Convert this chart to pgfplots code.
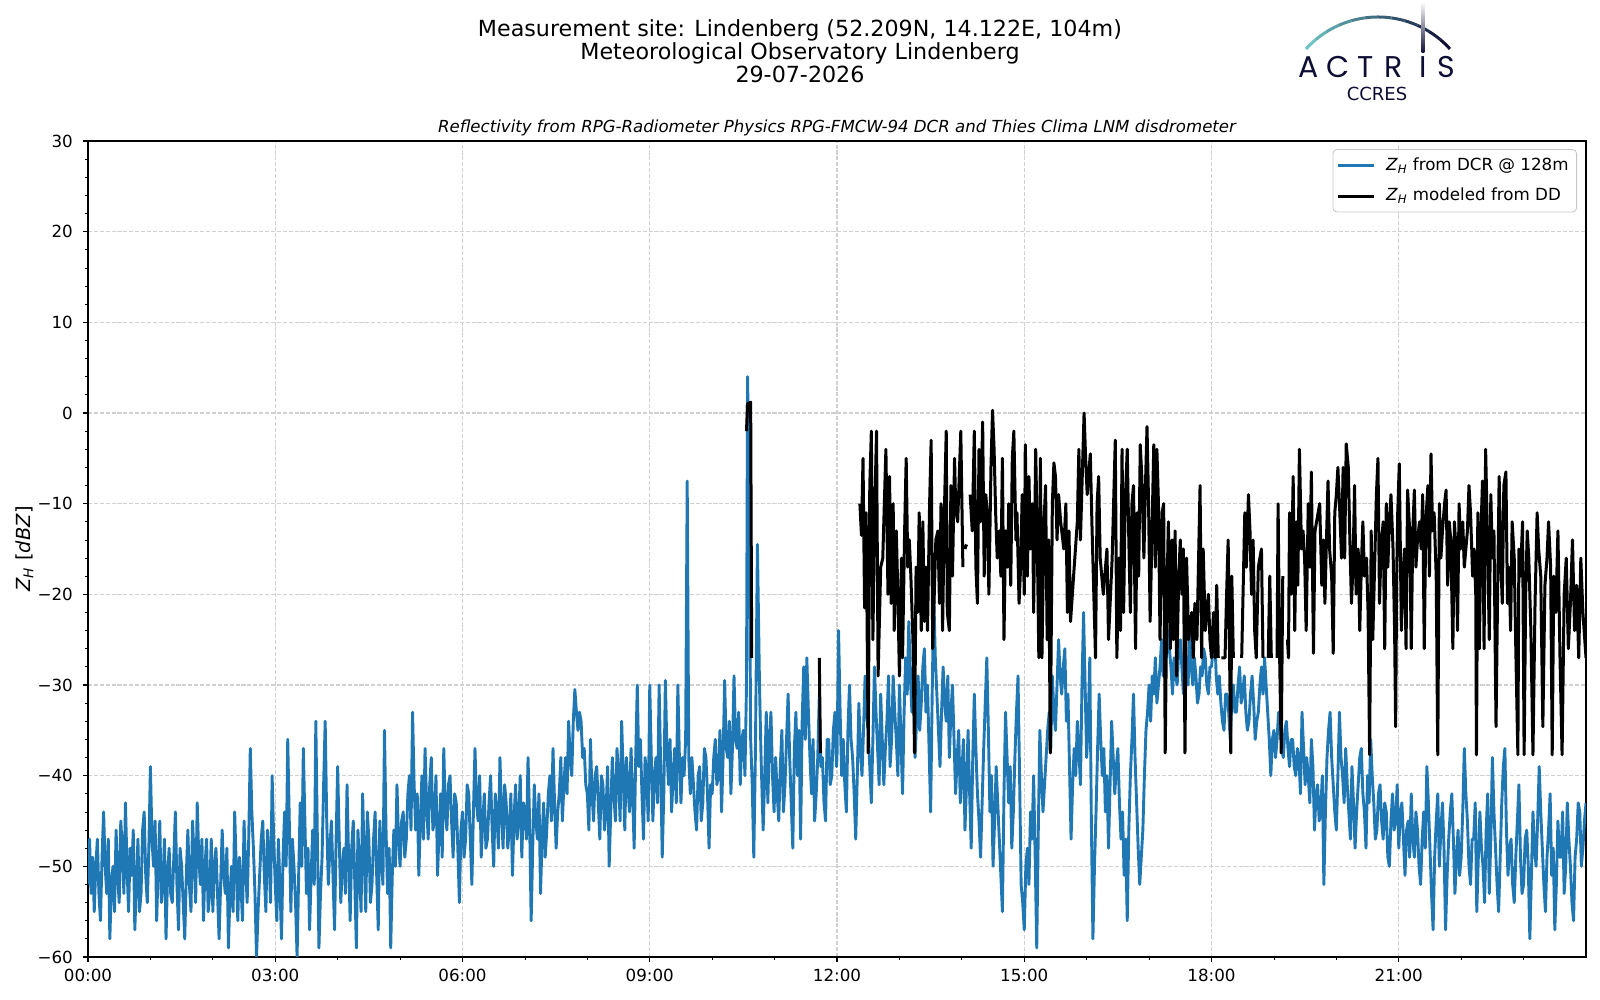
\documentclass[border=0pt]{standalone}
\usepackage{fontspec}
\setmainfont{DejaVu Sans}
\newfontfamily\logofont{Poppins}
\usepackage{pgfplots}
\pgfplotsset{compat=1.18}
\definecolor{mplblue}{HTML}{1F77B4}
\definecolor{navy}{HTML}{0E0E35}
\definecolor{tealc}{HTML}{6CC3C3}
\definecolor{gridc}{HTML}{D0D0D0}
\begin{document}
\begin{tikzpicture}
\useasboundingbox (-41pt,-21.5pt) rectangle (759pt,478.5pt);
\begin{axis}[
  at={(3pt,0pt)}, anchor=south west,
  scale only axis, width=749pt, height=408pt,
  xmin=0, xmax=1440, ymin=-60, ymax=30,
  xtick={0,180,360,540,720,900,1080,1260},
  xticklabels={00:00,03:00,06:00,09:00,12:00,15:00,18:00,21:00},
  minor xtick={60,120,240,300,420,480,600,660,780,840,960,1020,1140,1200,1320,1380},
  ytick={-60,-50,-40,-30,-20,-10,0,10,20,30},
  yticklabels={−60,−50,−40,−30,−20,−10,0,10,20,30},
  minor ytick={-58,-56,...,28},
  tick align=outside, tick pos=left,
  major tick length=2.43pt, minor tick length=1.39pt,
  every major tick/.append style={black, line width=0.55pt},
  every minor tick/.append style={black, line width=0.42pt},
  axis line style={black, line width=0.55pt},
  grid=major,
  major grid style={gridc, line width=0.55pt, dash pattern=on 2.05pt off 0.9pt},
  tick label style={font=\fontsize{8.35}{10}\selectfont},
  yticklabel style={xshift=-1.6pt},
  unbounded coords=jump,
  legend style={at={(0.994,0.990)}, anchor=north east, draw=gray!45, rounded corners=2pt,
    fill=white, fill opacity=0.8, text opacity=1, font=\fontsize{8.35}{10}\selectfont,
    inner xsep=2pt, inner ysep=2pt, row sep=3.5pt},
  legend cell align=left,
  legend image code/.code={\draw[#1] (0cm,0cm) -- (0.62cm,0cm); \path (0.74cm,0cm);},
]
\addplot[mplblue, line width=1.45pt, line join=round] coordinates {
(0,-52)(1.5,-47)(3,-53)(4.5,-49)(6,-55)(7.5,-50)(9,-47)(10.5,-53)(12,-56)(13.5,-49)(15,-44)(16.5,-50)(18,-53)(19.5,-47)(21,-58)(22.5,-52)(24,-50)(25.5,-55)(27,-46)(28.5,-51)(30,-54)(31.5,-45)(33,-48)(34.5,-53)(36,-43)(37.5,-50)(39,-55)(40.5,-48)(42,-51)(43.5,-46)(45,-57)(46.5,-52)(48,-47)(49.5,-55)(51,-53)(52.5,-46)(54,-44)(55.5,-51)(57,-54)(58.5,-48)
(60,-39)(61.5,-47)(63,-50)(64.5,-45)(66,-56)(67.5,-50)(69,-45)(70.5,-54)(72,-52)(73.5,-47)(75,-58)(76.5,-51)(78,-48)(79.5,-53)(81,-54)(82.5,-49)(84,-44)(85.5,-52)(87,-57)(88.5,-48)(90,-50)(91.5,-54)(93,-58)(94.5,-51)(96,-46)(97.5,-52)(99,-55)(100.5,-45)(102,-49)(103.5,-54)(105,-43)(106.5,-49)(108,-52)(109.5,-47)(111,-56)(112.5,-50)(114,-47)(115.5,-55)(117,-53)(118.5,-47)
(120,-55)(121.5,-50)(123,-48)(124.5,-53)(126,-58)(127.5,-52)(129,-46)(130.5,-51)(132,-53)(133.5,-48)(135,-59)(136.5,-53)(138,-50)(139.5,-55)(141,-44)(142.5,-50)(144,-56)(145.5,-49)(147,-52)(148.5,-56)(150,-45)(151.5,-50)(153,-54)(154.5,-47)(156,-37)(157.5,-44)(159,-48)(160.5,-53)(162,-60)(163.5,-55)(165,-51)(166.5,-47)(168,-45)(169.5,-51)(171,-55)(172.5,-46)(174,-49)(175.5,-54)(177,-40)(178.5,-47)
(180,-52)(181.5,-56)(183,-47)(184.5,-52)(186,-58)(187.5,-49)(189,-44)(190.5,-50)(192,-36)(193.5,-45)(195,-55)(196.5,-47)(198,-50)(199.5,-54)(201,-60)(202.5,-51)(204,-43)(205.5,-50)(207,-37)(208.5,-45)(210,-53)(211.5,-48)(213,-57)(214.5,-51)(216,-46)(217.5,-52)(219,-34)(220.5,-47)(222,-59)(223.5,-53)(225,-49)(226.5,-41)(228,-34)(229.5,-45)(231,-52)(232.5,-48)(234,-45)(235.5,-51)(237,-57)(238.5,-47)
(240,-39)(241.5,-47)(243,-54)(244.5,-50)(246,-48)(247.5,-53)(249,-41)(250.5,-49)(252,-56)(253.5,-48)(255,-45)(256.5,-52)(258,-59)(259.5,-46)(261,-50)(262.5,-55)(264,-42)(265.5,-49)(267,-55)(268.5,-44)(270,-47)(271.5,-54)(273,-52)(274.5,-47)(276,-44)(277.5,-51)(279,-57)(280.5,-45)(282,-49)(283.5,-52)(285,-35)(286.5,-46)(288,-53)(289.5,-48)(291,-59)(292.5,-51)(294,-46)(295.5,-50)(297,-41)(298.5,-47)
(300,-50)(301.5,-45)(303,-44)(304.5,-49)(306,-47)(307.5,-42)(309,-40)(310.5,-46)(312,-33)(313.5,-41)(315,-46)(316.5,-42)(318,-51)(319.5,-45)(321,-40)(322.5,-47)(324,-37)(325.5,-43)(327,-47)(328.5,-41)(330,-38)(331.5,-46)(333,-45)(334.5,-40)(336,-51)(337.5,-46)(339,-42)(340.5,-49)(342,-37)(343.5,-44)(345,-46)(346.5,-41)(348,-40)(349.5,-45)(351,-49)(352.5,-42)(354,-43)(355.5,-48)(357,-54)(358.5,-46)
(360,-44)(361.5,-49)(363,-47)(364.5,-41)(366,-42)(367.5,-47)(369,-52)(370.5,-44)(372,-37)(373.5,-43)(375,-45)(376.5,-40)(378,-49)(379.5,-45)(381,-42)(382.5,-48)(384,-47)(385.5,-43)(387,-40)(388.5,-46)(390,-50)(391.5,-42)(393,-44)(394.5,-48)(396,-38)(397.5,-44)(399,-48)(400.5,-41)(402,-43)(403.5,-48)(405,-46)(406.5,-42)(408,-51)(409.5,-45)(411,-41)(412.5,-47)(414,-45)(415.5,-40)(417,-49)(418.5,-43)
(420,-44)(421.5,-47)(423,-38)(424.5,-45)(426,-56)(427.5,-48)(429,-41)(430.5,-45)(432,-47)(433.5,-42)(435,-53)(436.5,-47)(438,-43)(439.5,-49)(441,-46)(442.5,-42)(444,-40)(445.5,-45)(447,-37)(448.5,-43)(450,-48)(451.5,-44)(453,-42)(454.5,-38)(456,-45)(457.5,-41)(459,-38)(460.5,-42)(462,-34)(463.5,-38)(465,-40)(466.5,-34)(468,-30.5)(469.5,-33)(471,-35)(472.5,-33)(474,-34)(475.5,-38)(477,-37)(478.5,-41)
(480,-42)(481.5,-46)(483,-36)(484.5,-42)(486,-45)(487.5,-40)(489,-39)(490.5,-43)(492,-47)(493.5,-40)(495,-41)(496.5,-46)(498,-44)(499.5,-39)(501,-50)(502.5,-44)(504,-38)(505.5,-42)(507,-45)(508.5,-37)(510,-40)(511.5,-45)(513,-34)(514.5,-40)(516,-46)(517.5,-38)(519,-41)(520.5,-44)(522,-37)(523.5,-42)(525,-48)(526.5,-38)(528,-30)(529.5,-39)(531,-36)(532.5,-42)(534,-47)(535.5,-38)(537,-40)(538.5,-45)
(540,-30)(541.5,-38)(543,-45)(544.5,-40)(546,-38)(547.5,-43)(549,-30)(550.5,-39)(552,-49)(553.5,-42)(555,-29.5)(556.5,-37)(558,-41)(559.5,-36)(561,-44)(562.5,-40)(564,-37)(565.5,-43)(567,-30)(568.5,-38)(570,-43)(571.5,-38)(573,-40)(574.5,-36)(576,-7.5)(577.5,-38)(579,-42)(580.5,-38)(582,-41)(583.5,-44)(585,-46)(586.5,-40)(588,-39)(589.5,-45)(591,-43)(592.5,-37)(594,-38)(595.5,-42)(597,-48)(598.5,-41)
(600,-42)(601.5,-38)(603,-36)(604.5,-41)(606,-40)(607.5,-35)(609,-44)(610.5,-38)(612,-29.5)(613.5,-37)(615,-38)(616.5,-34)(618,-42)(619.5,-37)(621,-29)(622.5,-36)(624,-37)(625.5,-33)(627,-41)(628.5,-36)(630,-35)(631.5,-40)(633,-30)(634,4)(635.5,-7)(637,-36)(638.5,-41)(640,-49)(641.5,-38)(643.5,-14.5)(645.5,-30)(647,-38)(649,-46)(650.5,-40)(652,-33)(653.5,-43)(655,-36)(656.5,-33)(658,-40)
(659.5,-44)(661,-38)(662.5,-42)(664,-45)(665.5,-39)(667,-35)(668.5,-44)(670,-41)(671.5,-36)(673,-31)(674.5,-38)(676,-43)(677.5,-48)(679,-37)(680.5,-33)(682,-40)(683.5,-35)(685,-47)(686.5,-34)(688,-28)(689.5,-36)(691,-27)(692.5,-33)(694,-38)(695.5,-42)(697,-36)(698.5,-45)(700,-42)(701.5,-38)(703,-31)(704.5,-39)(706,-38)(707.5,-43)(709,-45)(710.5,-36)(712,-36)(713.5,-41)(715,-40)(716.5,-35)(718,-33)(719.5,-39)
(720,-38)(721.5,-24)(723,-33)(724.5,-40)(726,-36)(727.5,-41)(729,-44)(730.5,-35)(732,-30)(733.5,-36)(735,-38)(736.5,-42)(738,-47)(739.5,-40)(741,-32)(742.5,-37)(744,-40)(745.5,-35)(747,-29)(748.5,-33)(750,-35)(751.5,-39)(753,-43)(754.5,-36)(756,-28)(757.5,-33)(759,-37)(760.5,-41)(762,-31)(763.5,-36)(765,-41)(766.5,-37)(768,-34)(769.5,-29)(771,-39)(772.5,-36)(774,-29)(775.5,-33)(777,-36)(778.5,-40)
(780,-30)(781.5,-36)(783,-42)(784.5,-33)(786,-27)(787.5,-31)(789,-23)(790.5,-29)(792,-33)(793.5,-28)(795,-38)(796.5,-34)(798,-29)(799.5,-35)(801,-32)(802.5,-28)(804,-26)(805.5,-33)(807,-30)(808.5,-37)(810,-44)(811.5,-31)(813,-20)(814.5,-27)(816,-31)(817.5,-35)(819,-39)(820.5,-33)(822,-28)(823.5,-32)(825,-34)(826.5,-29)(828,-38)(829.5,-33)(831,-30)(832.5,-36)(834,-42)(835.5,-38)(837,-35)(838.5,-43)
(840,-40)(841.5,-36)(843,-46)(844.5,-41)(846,-35)(847.5,-42)(849,-48)(850.5,-38)(852,-31)(853.5,-37)(855,-42)(856.5,-45)(858,-49)(859.5,-43)(861,-37)(862.5,-32)(864,-27)(865.5,-35)(867,-44)(868.5,-40)(870,-50)(871.5,-45)(873,-39)(874.5,-43)(876,-47)(877.5,-51)(879,-55)(880.5,-42)(882,-33)(883.5,-38)(885,-43)(886.5,-39)(888,-48)(889.5,-44)(891,-38)(892.5,-33)(894,-29)(895.5,-40)(897,-52)(898.5,-54)
(900,-57)(901.5,-50)(903,-48)(904.5,-52)(906,-44)(907.5,-47)(909,-40)(910.5,-49)(912,-59)(913.5,-46)(915,-35)(916.5,-40)(918,-44)(919.5,-41)(921,-38)(922.5,-35)(924,-33)(925.5,-37)(927,-29)(928.5,-33)(930,-35)(931.5,-30)(933,-25)(934.5,-29)(936,-31)(937.5,-28)(939,-26)(940.5,-34)(942,-31)(943.5,-39)(945,-47)(946.5,-41)(948,-37)(949.5,-40)(951,-34)(952.5,-37)(954,-41)(955.5,-30)(957,-22)(958.5,-30)
(960,-38)(961.5,-34)(963,-27)(964.5,-45)(966,-58)(967.5,-50)(969,-44)(970.5,-37)(972,-31)(973.5,-36)(975,-40)(976.5,-37)(978,-44)(979.5,-40)(981,-48)(982.5,-41)(984,-34)(985.5,-38)(987,-42)(988.5,-39)(990,-37)(991.5,-43)(993,-47)(994.5,-44)(996,-51)(997.5,-47)(999,-56)(1000.5,-46)(1002,-40)(1003.5,-36)(1005,-31)(1006.5,-38)(1008,-43)(1009.5,-48)(1011,-52)(1012.5,-49)(1014,-46)(1015.5,-40)(1017,-35)(1018.5,-33)
(1020,-30)(1021.5,-34)(1023,-29)(1024.5,-31)(1026,-27)(1027.5,-32)(1029,-30)(1030.5,-28)(1032,-25)(1033.5,-29)(1035,-23)(1036.5,-27)(1038,-24)(1039.5,-26)(1041,-28)(1042.5,-31)(1044,-27)(1045.5,-29)(1047,-30)(1048.5,-26)(1050,-25)(1051.5,-28)(1053,-31)(1054.5,-27)(1056,-27)(1057.5,-30)(1059,-24)(1060.5,-28)(1062,-30)(1063.5,-27)(1065,-29)(1066.5,-32)(1068,-31)(1069.5,-28)(1071,-29)(1072.5,-26)(1074,-27)(1075.5,-30)(1077,-31)(1078.5,-28)
(1080,-28)(1081.5,-26)(1083,-24)(1084.5,-29)(1086,-31)(1087.5,-29)(1089,-32)(1090.5,-34)(1092,-35)(1093.5,-31)(1095,-31)(1096.5,-33)(1098,-36)(1099.5,-32)(1101,-30)(1102.5,-33)(1104,-33)(1105.5,-30)(1107,-28)(1108.5,-32)(1110,-31)(1111.5,-29)(1113,-33)(1114.5,-35)(1116,-34)(1117.5,-31)(1119,-29)(1120.5,-32)(1122,-36)(1123.5,-34)(1125,-33)(1126.5,-30)(1128,-28)(1129.5,-31)(1131,-27)(1132.5,-30)(1134,-33)(1135.5,-36)(1137,-40)(1138.5,-36)
(1140,-35)(1141.5,-38)(1143,-36)(1144.5,-33)(1146,-33)(1147.5,-37)(1149,-38)(1150.5,-35)(1152,-34)(1153.5,-37)(1155,-39)(1156.5,-36)(1158,-36)(1159.5,-39)(1161,-40)(1162.5,-37)(1164,-38)(1165.5,-42)(1167,-33)(1168.5,-37)(1170,-41)(1171.5,-38)(1173,-40)(1174.5,-43)(1176,-36)(1177.5,-39)(1179,-46)(1180.5,-42)(1182,-41)(1183.5,-45)(1185,-44)(1186.5,-40)(1188,-52)(1189.5,-44)(1191,-38)(1192.5,-35)(1194,-33)(1195.5,-38)(1197,-41)(1198.5,-44)
(1200,-46)(1201.5,-40)(1203,-33)(1204.5,-38)(1206,-40)(1207.5,-43)(1209,-37)(1210.5,-41)(1212,-44)(1213.5,-47)(1215,-39)(1216.5,-43)(1218,-48)(1219.5,-44)(1221,-41)(1222.5,-38)(1224,-37)(1225.5,-42)(1227,-44)(1228.5,-48)(1230,-40)(1231.5,-43)(1233,-36)(1234.5,-40)(1236,-43)(1237.5,-47)(1239,-46)(1240.5,-42)(1242,-41)(1243.5,-45)(1245,-47)(1246.5,-43)(1248,-44)(1249.5,-49)(1251,-50)(1252.5,-45)(1254,-42)(1255.5,-46)(1257,-45)(1258.5,-41)
(1260,-48)(1261.5,-44)(1263,-43)(1264.5,-47)(1266,-51)(1267.5,-46)(1269,-45)(1270.5,-49)(1272,-42)(1273.5,-47)(1275,-49)(1276.5,-44)(1278,-46)(1279.5,-50)(1281,-52)(1282.5,-47)(1284,-44)(1285.5,-48)(1287,-39)(1288.5,-43)(1290,-48)(1291.5,-53)(1293,-57)(1294.5,-49)(1296,-45)(1297.5,-42)(1299,-50)(1300.5,-46)(1302,-43)(1303.5,-48)(1305,-57)(1306.5,-51)(1308,-47)(1309.5,-44)(1311,-42)(1312.5,-47)(1314,-53)(1315.5,-49)(1317,-46)(1318.5,-51)
(1320,-49)(1321.5,-44)(1323,-37)(1324.5,-42)(1326,-45)(1327.5,-50)(1329,-52)(1330.5,-47)(1332,-47)(1333.5,-43)(1335,-55)(1336.5,-49)(1338,-44)(1339.5,-48)(1341,-50)(1342.5,-54)(1344,-46)(1345.5,-42)(1347,-53)(1348.5,-47)(1350,-38)(1351.5,-44)(1353,-48)(1354.5,-52)(1356,-55)(1357.5,-49)(1359,-43)(1360.5,-39)(1362,-37)(1363.5,-46)(1365,-51)(1366.5,-48)(1368,-47)(1369.5,-52)(1371,-54)(1372.5,-49)(1374,-45)(1375.5,-41)(1377,-49)(1378.5,-53)
(1380,-52)(1381.5,-47)(1383,-46)(1384.5,-50)(1386,-58)(1387.5,-51)(1389,-44)(1390.5,-48)(1392,-50)(1393.5,-45)(1395,-39)(1396.5,-44)(1398,-48)(1399.5,-52)(1401,-55)(1402.5,-49)(1404,-46)(1405.5,-42)(1407,-51)(1408.5,-48)(1410,-57)(1411.5,-52)(1413,-45)(1414.5,-49)(1416,-49)(1417.5,-44)(1419,-53)(1420.5,-50)(1422,-43)(1423.5,-47)(1425,-50)(1426.5,-54)(1428,-56)(1429.5,-49)(1431,-47)(1432.5,-43)(1434,-44)(1435.5,-50)(1437,-48)(1438.5,-45)(1440,-43)
};
\addlegendentry{\textit{Z}\textsubscript{\textit{H}} from DCR @ 128m}
\addplot[black, line width=1.5pt, line join=round] coordinates {
(633,-2)(634,1)(637,1.2)(638,-27)(639,nan)
(703,-27)(704,-37.5)(705,nan)
(742,-10)(743.5,-13.5)(745,-5)(746.5,-21.5)(748,-11)(750,-37.5)(751.5,-8)(753,-2)(754.5,-25)(756,-12)(758,-2)(759.5,-29)(762,-17)(764,-16)(767,-4)(769,-20)(770.5,-7)(772,-21)(774,-10)(775,-24)(777,-13)(778.5,-20)(780,-29)(782,-16)(783,-27)(785,-13)(786.5,-5)(788,-17)(789.5,-14)(791,-18)(793,-25)(794.5,-37.5)(796,-17)(797.5,-22)(799,-11)(801,-24)(802.5,-12)(804,-23)(805.5,-17)(807,-24)(809,-10)(810.5,-3)(812,-26)(813.5,-20)(815,-14)(817,-13)(818.5,-21)(820,-10)(821.5,-24)(823,-12)(825,-2)(826,-22)(828,-24)(829.5,-8)(831,-18)(833,-5)(834,-10)(836,-12)(837.5,-7)(839,-2)(841,-17)(842,nan)
(843,-15)(844.5,-14.5)(845.5,nan)
(848,-9)(850,-13)(852,-2)(853.5,-17)(855,-21)(856.5,-4)(858,-12)(860,-1)(861.5,-18)(863,-9)(864.5,-11)(866,-20)(868,-6)(869.5,0.3)(871,-4)(872.5,-11)(874,-16)(876,-13)(877.5,-18)(879,-5)(880.5,-25)(882,-13)(884,-17)(885,-10)(887,-19)(888.5,-5)(890,-2)(892,-14)(893,-11)(895,-21)(896.5,-17)(898,-9)(900,-20)(901,-3.5)(903,-18)(904.5,-7)(906,-15)(908,-10)(909,-22)(911,-4)(912.5,-14)(914,-27)(915.5,-5)(917,-27)(919,-12)(920.5,-8)(922,-25)(923.5,-14)(925,-37.5)(927,-10)(928.5,-5.5)(930,-7)(931.5,-14)(933,-9)(935,-12)(938,-15)
(940,-10)(941.5,-22)(943,-13)(944.5,-23)(948,-17)(951,-12)(952.5,-4)(954,-14)(957.5,0)(959,-5)(960.5,-9)(963.5,-4.5)(965,-12)(968.5,-27)(970,-10)(971.5,-7)(973,-16)(976,-20)(979.5,-15)(981,-25)(984.5,-16)(987.5,-3)(989,-27)(991,-16)(992.5,-24)(994,-4)(995.5,-22)(997,-10)(999,-4)(1000.5,-14)(1002,-22)(1003.5,-10)(1005,-8)(1007,-26)(1008.5,-11)(1010,-18)(1011.5,-3.5)(1013,-7)(1015,-16)(1016.5,-8)(1018,-1.5)(1019.5,-10)(1021,-23)(1023,-12)(1024.5,-3.5)(1026,-17)(1027.5,-4)(1029,-10)(1030.5,-25)(1032.5,-11)(1034,-10)(1035.5,-37.5)(1037,-21)(1038.5,-12)(1040.5,-26)(1042,-14)(1043.5,-25)(1045,-13)(1046.5,-29)(1048.5,-18)(1050,-14)(1051.5,-20)(1053,-15)(1054.5,-37.5)(1056,-16)(1058,-25)(1061,-22)(1062.5,-27)(1064,-21)(1066,-25)(1069,-8)(1070.5,-27)(1072,-15)(1074,-24)(1077,-20)(1078.5,-25)(1080,-27)(1082,-22)(1083.5,-27)(1085,-19)(1086.5,-27)(1087.5,nan)
(1089.5,-27)(1093,-27)(1094.5,-20)(1096,-14)(1098.5,-37.5)(1099.5,-18)(1101,-27)(1102,nan)
(1109,-27)(1110.5,-19)(1112,-11)(1113.5,-17)(1115.5,-9)(1117,-13)(1118.5,-20)(1120,-14)(1121.5,-24)(1123,-27)(1125,-17)(1128,-15)(1129.5,-27)(1130.5,nan)
(1134.5,-27)(1136,-18)(1137.5,-27)(1138.5,nan)
(1143,-27)(1144,-10)(1145.5,-27)(1147,-37.5)(1148.5,-18)(1149.5,nan)
(1153,-25)(1154,-27)(1155,-11)(1156.5,-20)(1158.5,-7)(1160,-24)(1161.5,-12)(1163,-19)(1164.5,-4)(1166.5,-15)(1168,-13)(1169.5,-16)(1171,-24)
(1173,-10)(1174.5,-17)(1176,-6.5)(1178,-26.5)(1179.5,-13)(1181,-12)(1184,-10)(1186,-19)(1187.5,-14)(1189,-21)(1190.5,-14)(1192,-7.5)(1193.5,-15)(1195.5,-18)(1197,-26.5)(1198.5,-11)(1200,-9)(1201.5,-6)(1203,-10)(1205,-16)(1206.5,-6)(1208,-16)(1209.5,-3.4)(1211.5,-6)(1213,-14)(1214.5,-21)(1216,-17)(1217.5,-8)(1219,-20)(1221,-15)(1222.5,-24)(1224,-17)(1225.5,-12)(1227,-18)(1229,-16)(1230.5,-22)(1232,-37.7)(1233.5,-13)(1235,-25)(1237,-16)(1238.5,-9)(1240,-5)(1241.5,-21)(1243,-15)(1245,-12)(1246.5,-26)(1248,-10)(1249.5,-17)(1251,-12)(1252.5,-9)(1254.5,-15)(1256,-24)(1257,-34.6)(1258,-18)(1259,-11)(1260.5,-5.6)(1262.5,-24)(1264,-18)(1265.5,-15)(1267,-26)(1268.5,-8.5)(1270.5,-13)(1272,-26)(1273.5,-13)(1275,-8.5)(1276.5,-17)(1278,-14)(1280,-12)(1281.5,-15)(1283,-9)(1284.5,-26)(1286,-12)(1288,-8)(1289.5,-18)(1291,-4.5)(1292.5,-13)(1294,-11)(1296,-18)(1297.5,-37.7)(1299,-10)(1300.5,-16)(1302,-13)(1304,-10)(1305.5,-8.5)(1307,-19)(1308.5,-12)(1310,-14)(1312,-26)(1313.5,-12)(1315,-15)(1316.5,-24)(1318,-10)(1319.5,-15)(1321.5,-12)(1323,-17)(1324.5,-15)(1326,-13)(1327.5,-8)(1329,-11)(1331,-18)(1332.5,-15)(1334,-20)(1334.7,-37.7)(1336,-11)(1337.5,-26)(1339,-13)(1340.5,-7.5)(1342,-26)(1343.5,-4)(1345.5,-15)(1347,-25)(1348.5,-9)(1350,-16)(1351.5,-13)(1353.5,-34.6)(1355,-20)(1356.5,-7)(1358,-16)(1359.5,-21)(1361,-8)(1363,-6.5)(1364.5,-21)(1366,-17)(1367.5,-24)(1369,-12)(1371,-16)(1372.5,-26)(1374.5,-37.7)(1375.5,-15)(1377,-18)(1379,-12)(1380.5,-37.7)(1382,-20)(1383.5,-13)(1385,-16)(1387,-24)(1389,-37.7)(1391,-21)(1393,-11)(1394.5,-15)(1396.5,-18)(1398.5,-34.6)(1400.5,-19)(1402.5,-16)(1404,-12)(1406,-17)(1407.5,-37.7)(1409,-18)(1411,-22)(1413,-13)(1415,-27)(1417,-37.7)(1419,-20)(1421,-16)(1423,-26)(1425,-21)(1427,-14)(1429,-24)(1431,-19)(1433,-27)(1435,-16)(1437,-22)(1440,-27)
};
\addlegendentry{\textit{Z}\textsubscript{\textit{H}} modeled from DD}
\end{axis}
% titles
\node[anchor=base, font=\fontsize{11.1}{13}\selectfont] at (359pt,460pt) {Measurement site: Lindenberg (52.209N, 14.122E, 104m)};
\node[anchor=base, font=\fontsize{11.1}{13}\selectfont] at (359pt,448.5pt) {Meteorological Observatory Lindenberg};
\node[anchor=base, font=\fontsize{11.1}{13}\selectfont] at (359pt,437pt) {29-07-2026};
\node[anchor=base, font=\fontsize{8.3}{10}\selectfont\itshape] at (377.5pt,412.25pt) {Reflectivity from RPG-Radiometer Physics RPG-FMCW-94 DCR and Thies Clima LNM disdrometer};
\node[rotate=90, font=\fontsize{9.7}{11}\selectfont] at (-28.75pt,204pt) {\textit{Z}\textsubscript{\textit{H}} [\textit{dBZ}]};
% logo
\foreach \i in {0,...,11}{
  \pgfmathsetmacro{\aa}{137.9-\i*7.98}
  \pgfmathsetmacro{\ab}{137.9-(\i+1)*7.98}
  \pgfmathsetmacro{\pc}{100*\i/11}
  \colorlet{arcc}{navy!\pc!tealc}
  \draw[arcc, line width=1.5pt] ([shift={(\aa:48.5pt)}]648pt,421.5pt) arc[start angle=\aa, end angle=\ab, radius=48.5pt];
}
\shade[top color=white, bottom color=navy] (669.8pt,452pt) rectangle (671.2pt,477.5pt);
\begin{scope}[every node/.style={anchor=base, text=navy, font=\logofont\fontsize{15}{17}\selectfont, inner sep=0pt}]
\node at (613.5pt,439.5pt) {A};
\node at (628pt,439.5pt) {C};
\node at (642pt,439.5pt) {T};
\node at (656pt,439.5pt) {R};
\node at (670.5pt,439.5pt) {I};
\node at (682pt,439.5pt) {S};
\end{scope}
\node[anchor=base, text=navy, font=\fontsize{9}{10}\selectfont, inner sep=0pt] at (647.5pt,428pt) {CCRES};
\end{tikzpicture}
\end{document}
